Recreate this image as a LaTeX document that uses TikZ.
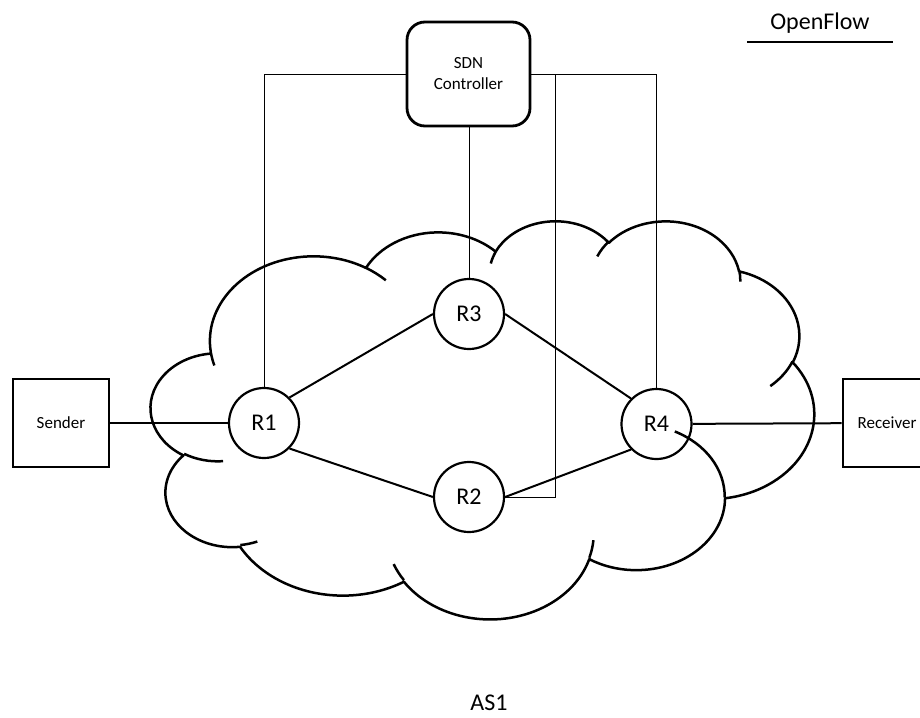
\documentclass[tikz,border=0pt]{standalone}
\usepackage{fontspec}
\setmainfont{Carlito}
\newcommand\cldmove[2]{%
  \pgfmathsetmacro\cldX{151+1.534722*(#1)}%
  \pgfmathsetmacro\cldY{-220-0.921296*(#2)}%
  \pgfpathmoveto{\pgfpoint{\cldX pt}{\cldY pt}}}
\newcommand\cldarc[4]{%
  \pgfmathsetmacro\cldA{atan2((#1)*sin(#3),(#2)*cos(#3))}%
  \pgfmathsetmacro\cldB{atan2((#1)*sin((#3)+(#4)),(#2)*cos((#3)+(#4)))}%
  \pgfmathsetmacro\cldD{mod((\cldB)-(\cldA)+720,360)}%
  \pgfmathsetmacro\cldS{0-(\cldA)}%
  \pgfmathsetmacro\cldE{0-(\cldA)-(\cldD)}%
  \pgfmathsetmacro\cldRX{1.534722*(#1)}%
  \pgfmathsetmacro\cldRY{0.921296*(#2)}%
  \pgfpatharc{\cldS}{\cldE}{\cldRX pt and \cldRY pt}}
\tikzset{
  router/.style={circle, draw, line width=2.2pt, minimum size=70pt, inner sep=0pt,
    font=\fontsize{24}{28}\selectfont},
  hostbox/.style={draw, line width=2.6pt, minimum height=88pt, inner sep=0pt,
    font=\fontsize{17}{20}\selectfont},
  ctrlbox/.style={draw, line width=2.8pt, rounded corners=18pt, minimum width=123pt,
    minimum height=104pt, align=center, inner sep=0pt, font=\fontsize{17}{21}\selectfont},
  biglabel/.style={anchor=base, inner sep=0pt, font=\fontsize{24}{28}\selectfont},
  link/.style={line width=2pt},
  ctrlline/.style={line width=1pt},
}
\begin{document}
\begin{tikzpicture}[x=1pt, y=-1pt]
\useasboundingbox (0,0) rectangle (920,717);
\clip (0,0) rectangle (920,717);
\fill[white] (0,0) rectangle (920,717);
% cloud (Office cloud shape)
\begin{scope}
\pgfsetlinewidth{2.5pt}
\pgfsetroundjoin
\cldmove{39.00}{143.70}
\cldarc{67.53}{91.90}{-190.4875}{123.7805}
\cldarc{53.33}{72.67}{-144.1024}{89.9452}
\cldarc{43.65}{59.45}{-145.8079}{99.7230}
\cldarc{48.57}{65.95}{-130.9861}{117.2417}
\cldarc{53.33}{72.73}{-78.7089}{109.0269}
\cldarc{67.75}{92.20}{-46.2673}{130.2690}
\cldarc{57.85}{78.67}{0.6250}{114.0333}
\cldarc{67.52}{92.15}{22.4516}{115.1726}
\cldarc{77.20}{105.43}{66.2426}{75.7110}
\cldarc{43.60}{59.18}{-274.9421}{146.7356}
\cldarc{43.45}{59.45}{-246.8285}{152.5189}
\pgfpathclose
\cldmove{46.93}{261.77}\cldarc{43.45}{59.45}{86.7420}{26.4295}
\cldmove{69.28}{348.99}\cldarc{43.60}{59.18}{73.6105}{11.4475}
\cldmove{164.78}{390.90}\cldarc{67.52}{92.15}{137.6242}{14.0811}
\cldmove{288.27}{347.51}\cldarc{67.52}{92.15}{6.4533}{15.9984}
\cldmove{341.29}{229.54}\cldarc{57.85}{78.67}{-70.2924}{70.9174}
\cldmove{417.98}{153.54}\cldarc{53.33}{72.73}{30.3180}{27.7515}
\cldmove{383.24}{54.26}\cldarc{48.57}{65.95}{-13.7443}{14.8589}
\cldmove{290.78}{39.52}\cldarc{48.57}{65.95}{-149.1815}{18.1954}
\cldmove{221.41}{47.20}\cldarc{43.65}{59.45}{-163.4943}{17.6864}
\cldmove{140.00}{51.92}\cldarc{67.53}{91.90}{-66.7070}{12.3194}
\cldmove{41.27}{157.89}\cldarc{67.53}{91.90}{157.6544}{11.8582}
\pgfusepath{stroke}
\end{scope}
% nodes
\node[ctrlbox] (ctrl) at (468.5,74) {SDN\\Controller};
\node[router] (R1) at (264,423) {R1};
\node[router] (R3) at (469,314) {R3};
\node[router] (R2) at (469,497) {R2};
\node[router] (R4) at (656.5,424) {R4};
\node[hostbox, minimum width=96pt] (snd) at (61,423) {Sender};
\node[hostbox, minimum width=88pt] (rcv) at (887,423) {Receiver};
\node[biglabel] (of) at (820,30) {OpenFlow};
\node[biglabel] (as) at (489,710) {AS1};
\coordinate (ul1) at (747,42);
\coordinate (ul2) at (893,42);
\coordinate (j) at (555,74);
% links
\draw[link] (snd) -- (R1);
\draw[link] (R4) -- (rcv);
\draw[link] (R1.45) -- (R3.west);
\draw[link] (R3.east) -- (R4.135);
\draw[link] (R1.-45) -- (R2.west);
\draw[link] (R2.east) -- (R4.-135);
% control lines
\draw[ctrlline] (R1.north) |- (ctrl.west);
\draw[ctrlline] (R3.north) -- (R3.north |- ctrl.south);
\draw[ctrlline] (ctrl.east) -| (R4.north);
\draw[ctrlline] (j) |- (R2.east);
\draw[line width=1.3pt] (ul1) -- (ul2);
\end{tikzpicture}
\end{document}
